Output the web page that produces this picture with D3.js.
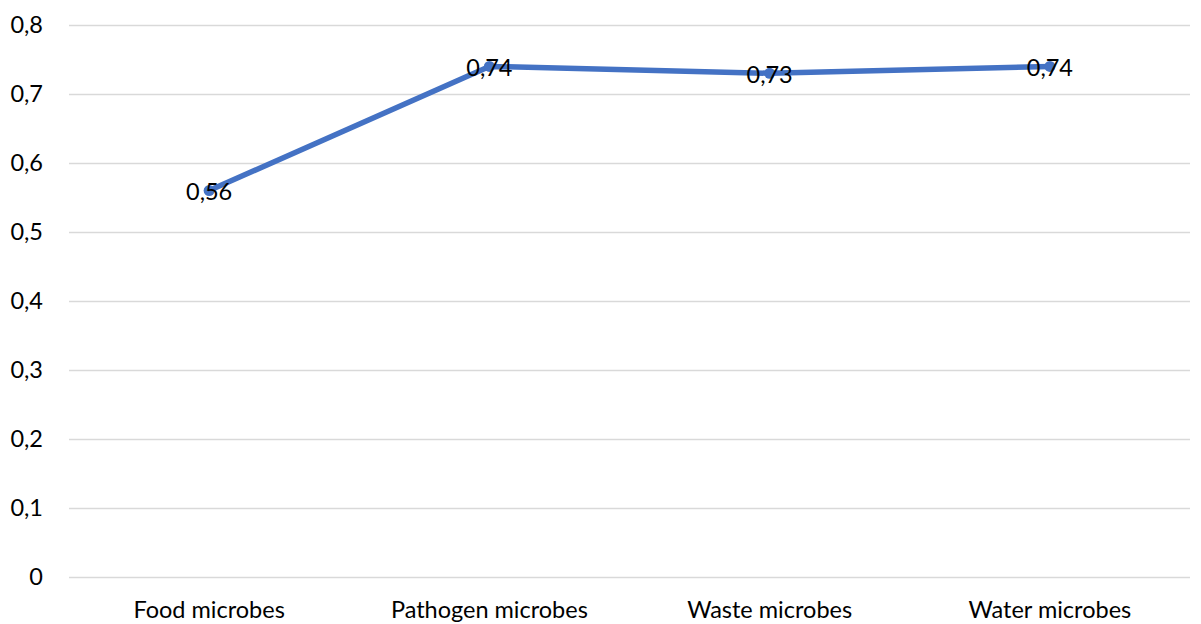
<!DOCTYPE html>
<html>
<head>
<meta charset="utf-8">
<script src="https://cdn.jsdelivr.net/npm/d3@7"></script>
<style>
  html, body { margin: 0; padding: 0; background: #fff; }
  svg { display: block; font-family: Lato, "Open Sans", sans-serif; }
</style>
</head>
<body>
<svg id="chart" width="1201" height="624"></svg>
<script>
// Categories and values for the single series
const categories = ["Food microbes", "Pathogen microbes", "Waste microbes", "Water microbes"];
const values = [0.56, 0.74, 0.73, 0.74];
const yTicks = [0, 0.1, 0.2, 0.3, 0.4, 0.5, 0.6, 0.7, 0.8];

const W = 1201, H = 624;
const margin = { left: 69, right: 11, top: 25, bottom: 47 };
const fontSize = "23.5px";

const svg = d3.select("#chart");

const x = d3.scaleBand()
  .domain(categories)
  .range([margin.left, W - margin.right])
  .padding(0);

const y = d3.scaleLinear()
  .domain([0, 0.8])
  .range([H - margin.bottom, margin.top]);

const fmt = v => d3.format(".1~f")(v).replace(".", ",");
const fmtLabel = v => d3.format(".2f")(v).replace(".", ",");

// Horizontal gridlines with tick labels
const yAxis = d3.axisLeft(y)
  .tickValues(yTicks)
  .tickSize(-(W - margin.left - margin.right))
  .tickPadding(26)
  .tickFormat(fmt);

const gy = svg.append("g")
  .attr("transform", `translate(${margin.left},0)`)
  .call(yAxis);
gy.select(".domain").remove();
gy.selectAll(".tick line").attr("stroke", "#d9d9d9").attr("stroke-width", 1.5);
gy.selectAll(".tick text")
  .attr("fill", "#000")
  .style("font-size", fontSize)
  .attr("font-family", "Lato, 'Open Sans', sans-serif");

// Category labels along the bottom
const xAxis = d3.axisBottom(x).tickSize(0).tickPadding(24.5);
const gx = svg.append("g")
  .attr("transform", `translate(0,${H - margin.bottom})`)
  .call(xAxis);
gx.select(".domain").remove();
gx.selectAll(".tick text")
  .attr("fill", "#000")
  .style("font-size", fontSize)
  .attr("font-family", "Lato, 'Open Sans', sans-serif");

const cx = d => x(d) + x.bandwidth() / 2;

// Series line
const line = d3.line()
  .x((d, i) => cx(categories[i]))
  .y(d => y(d));

svg.append("path")
  .datum(values)
  .attr("fill", "none")
  .attr("stroke", "#4472c4")
  .attr("stroke-width", 5.5)
  .attr("stroke-linejoin", "round")
  .attr("d", line);

// Point markers
svg.selectAll("circle.pt")
  .data(values)
  .join("circle")
  .attr("class", "pt")
  .attr("cx", (d, i) => cx(categories[i]))
  .attr("cy", d => y(d))
  .attr("r", 5.5)
  .attr("fill", "#4472c4");

// Value labels centred on the points
svg.selectAll("text.val")
  .data(values)
  .join("text")
  .attr("class", "val")
  .attr("x", (d, i) => cx(categories[i]))
  .attr("y", d => y(d))
  .attr("dy", "0.42em")
  .attr("text-anchor", "middle")
  .style("font-size", fontSize)
  .attr("fill", "#000")
  .text(fmtLabel);
</script>
</body>
</html>
